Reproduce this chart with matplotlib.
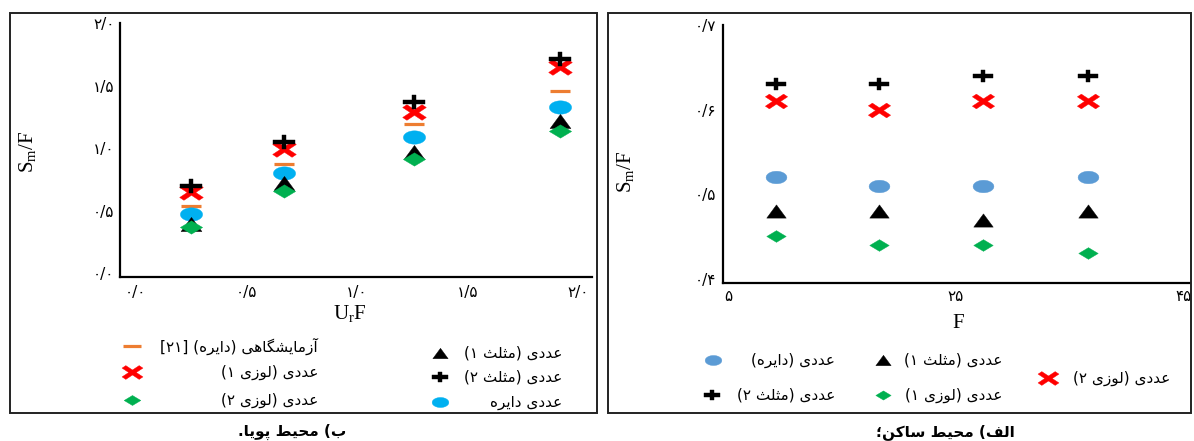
import re
import numpy as np
import matplotlib
matplotlib.use("Agg")
import matplotlib.pyplot as plt
from matplotlib.path import Path
from matplotlib.lines import Line2D
from matplotlib.patches import Rectangle
from matplotlib.ticker import FixedLocator, FixedFormatter
from matplotlib import font_manager
from matplotlib.font_manager import FontProperties
from matplotlib.ft2font import FT2Font

# ---------------- data ----------------
# (b) dynamic environment: S_m/F against U_r F
ur_f = [0.25, 0.67, 1.26, 1.92]
dyn_lab_circle = [0.54, 0.87, 1.19, 1.46]
dyn_rhombus1 = [0.65, 0.99, 1.29, 1.65]
dyn_rhombus2 = [0.37, 0.66, 0.91, 1.14]
dyn_triangle1 = [0.39, 0.72, 0.97, 1.22]
dyn_triangle2 = [0.70, 1.05, 1.37, 1.71]
dyn_circle = [0.47, 0.80, 1.09, 1.33]

dyn_ticks = [0.0, 0.5, 1.0, 1.5, 2.0]
dyn_tick_labels = ["۰/۰", "۰/۵", "۱/۰", "۱/۵", "۲/۰"]

# (a) static environment: S_m/F against F
f_values = [9.2, 18.3, 27.4, 36.6]
st_circle = [0.52, 0.51, 0.51, 0.52]
st_triangle1 = [0.48, 0.48, 0.47, 0.48]
st_triangle2 = [0.63, 0.63, 0.64, 0.64]
st_rhombus1 = [0.45, 0.44, 0.44, 0.43]
st_rhombus2 = [0.61, 0.60, 0.61, 0.61]

st_xticks = [5, 25, 45]
st_xtick_labels = ["۵", "۲۵", "۴۵"]
st_yticks = [0.4, 0.5, 0.6, 0.7]
st_ytick_labels = ["۰/۴", "۰/۵", "۰/۶", "۰/۷"]

dyn_legend_left = ["آزمایشگاهی (دایره) [۲۱]", "عددی (لوزی ۱)", "عددی (لوزی ۲)"]
dyn_legend_right = ["عددی (مثلث ۱)", "عددی (مثلث ۲)", "عددی دایره"]
st_legend = ["عددی (دایره)", "عددی (مثلث ۱)", "عددی (مثلث ۲)", "عددی (لوزی ۱)", "عددی (لوزی ۲)"]
caption_dyn = "ب) محیط پویا."
caption_st = "الف) محیط ساکن؛"

# ---------------- Persian text shaping ----------------
AR_FONT = "DejaVu Sans"
_cmap = FT2Font(font_manager.findfont(FontProperties(family=AR_FONT))).get_charmap()

# isolated, final, initial, medial
_FORMS = {
    "آ": (0xFE81, 0xFE82, None, None),
    "ا": (0xFE8D, 0xFE8E, None, None),
    "ب": (0xFE8F, 0xFE90, 0xFE91, 0xFE92),
    "پ": (0xFB56, 0xFB57, 0xFB58, 0xFB59),
    "ت": (0xFE95, 0xFE96, 0xFE97, 0xFE98),
    "ث": (0xFE99, 0xFE9A, 0xFE9B, 0xFE9C),
    "ح": (0xFEA1, 0xFEA2, 0xFEA3, 0xFEA4),
    "د": (0xFEA9, 0xFEAA, None, None),
    "ر": (0xFEAD, 0xFEAE, None, None),
    "ز": (0xFEAF, 0xFEB0, None, None),
    "س": (0xFEB1, 0xFEB2, 0xFEB3, 0xFEB4),
    "ش": (0xFEB5, 0xFEB6, 0xFEB7, 0xFEB8),
    "ط": (0xFEC1, 0xFEC2, 0xFEC3, 0xFEC4),
    "ع": (0xFEC9, 0xFECA, 0xFECB, 0xFECC),
    "ف": (0xFED1, 0xFED2, 0xFED3, 0xFED4),
    "ک": (0xFB8E, 0xFB8F, 0xFB90, 0xFB91),
    "گ": (0xFB92, 0xFB93, 0xFB94, 0xFB95),
    "ل": (0xFEDD, 0xFEDE, 0xFEDF, 0xFEE0),
    "م": (0xFEE1, 0xFEE2, 0xFEE3, 0xFEE4),
    "ن": (0xFEE5, 0xFEE6, 0xFEE7, 0xFEE8),
    "ه": (0xFEE9, 0xFEEA, 0xFEEB, 0xFEEC),
    "و": (0xFEED, 0xFEEE, None, None),
    "ی": (0xFBFC, 0xFBFD, 0xFBFE, 0xFBFF),
}
_ALT = {  # substitutes when a Persian form is missing from the font
    0xFBFC: 0xFEEF, 0xFBFD: 0xFEF0, 0xFBFE: 0xFEF3, 0xFBFF: 0xFEF4,
    0xFB8E: 0xFED9, 0xFB8F: 0xFEDA, 0xFB90: 0xFEDB, 0xFB91: 0xFEDC,
}
_MIRROR = {"(": ")", ")": "(", "[": "]", "]": "["}


def _glyph(cp, base):
    if cp in _cmap:
        return chr(cp)
    if cp in _ALT and _ALT[cp] in _cmap:
        return chr(_ALT[cp])
    return base


def shape(s):
    out = []
    for i, c in enumerate(s):
        if c not in _FORMS:
            out.append(c)
            continue
        prev = s[i - 1] if i > 0 else ""
        nxt = s[i + 1] if i + 1 < len(s) else ""
        forms = _FORMS[c]
        join_prev = prev in _FORMS and _FORMS[prev][2] is not None
        join_next = forms[2] is not None and nxt in _FORMS
        if join_prev and join_next:
            cp = forms[3]
        elif join_prev:
            cp = forms[1]
        elif join_next:
            cp = forms[2]
        else:
            cp = forms[0]
        out.append(_glyph(cp, c))
    return "".join(out)


def rtl(s):
    vis = shape(s)[::-1]
    vis = re.sub(r"[0-9\u06F0-\u06F9]+", lambda m: m.group(0)[::-1], vis)
    return "".join(_MIRROR.get(c, c) for c in vis)


# ---------------- marker shapes ----------------
def closed(verts):
    verts = list(verts) + [verts[0]]
    return Path(verts, closed=True)


_t = np.linspace(0, 2 * np.pi, 60)
ELLIPSE = closed(list(zip(np.cos(_t), 0.6 * np.sin(_t))))
DIAMOND = closed([(-1, 0), (0, 0.6), (1, 0), (0, -0.6)])
TRIANGLE = closed([(-1, -0.68), (1, -0.68), (0, 0.68)])
_a, _h = 0.2, 0.62
PLUS = closed([(-_a, _h), (_a, _h), (_a, _a), (1, _a), (1, -_a), (_a, -_a),
               (_a, -_h), (-_a, -_h), (-_a, -_a), (-1, -_a), (-1, _a), (-_a, _a)])
_d, _sy = 0.36, 0.66
CROSS = closed([(x, y * _sy) for x, y in
                [(0, _d), (1 - _d, 1), (1, 1 - _d), (_d, 0), (1, -1 + _d), (1 - _d, -1),
                 (0, -_d), (-1 + _d, -1), (-1, -1 + _d), (-_d, 0), (-1, 1 - _d), (-1 + _d, 1)]])

RED = "#FF0000"
GREEN = "#00B050"
CYAN = "#00B0F0"
STEEL = "#5B9BD5"
ORANGE = "#ED7D31"


def mk(path, color, size):
    return dict(marker=path, markersize=size, markerfacecolor=color,
                markeredgecolor=color, markeredgewidth=0.3, linestyle="none")


def dash(size):
    return dict(marker="_", markersize=size, markeredgecolor=ORANGE,
                markeredgewidth=2.3, linestyle="none")


# ---------------- figure ----------------
W, H = 1194, 441
fig = plt.figure(figsize=(W / 100, H / 100), dpi=100)
plt.rcParams["mathtext.fontset"] = "custom"
plt.rcParams["mathtext.rm"] = "Liberation Serif"
plt.rcParams["mathtext.it"] = "Liberation Serif:italic"


def fx(x):
    return x / W


def fy(y):
    return 1 - y / H


def panel_box(x0, y0, x1, y1):
    fig.add_artist(Rectangle((fx(x0), fy(y1)), fx(x1 - x0), (y1 - y0) / H,
                             transform=fig.transFigure, fill=False,
                             edgecolor="#222222", linewidth=1.4))


def style_axes(ax):
    for side in ("top", "right"):
        ax.spines[side].set_visible(False)
    for side in ("left", "bottom"):
        ax.spines[side].set_linewidth(1.6)
        ax.spines[side].set_color("black")
    ax.tick_params(length=0, labelsize=11)
    for lab in ax.get_xticklabels() + ax.get_yticklabels():
        lab.set_fontfamily(AR_FONT)
    ax.patch.set_alpha(0)


def key(x, y, style):
    fig.add_artist(Line2D([fx(x)], [fy(y)], transform=fig.transFigure, **style))


def label(x, y, s, ha="right", size=11, weight="normal"):
    fig.text(fx(x), fy(y), rtl(s), ha=ha, va="center", fontsize=size,
             fontfamily=AR_FONT, fontweight=weight)


panel_box(10, 13, 597, 413)
panel_box(608, 13, 1191, 413)

# ---- left panel: dynamic environment ----
ax1 = fig.add_axes([fx(120), fy(277), fx(592 - 120), (277 - 23) / H])
ax1.plot(ur_f, dyn_lab_circle, zorder=3, **dash(15))
ax1.plot(ur_f, dyn_circle, zorder=3, **mk(ELLIPSE, CYAN, 16))
ax1.plot(ur_f, dyn_triangle1, zorder=3, **mk(TRIANGLE, "black", 15))
ax1.plot(ur_f, dyn_rhombus2, zorder=4, **mk(DIAMOND, GREEN, 16))
ax1.plot(ur_f, dyn_rhombus1, zorder=3, **mk(CROSS, RED, 17))
ax1.plot(ur_f, dyn_triangle2, zorder=4, **mk(PLUS, "black", 16))
ax1.set_xlim(-0.072, 2.064)
ax1.set_ylim(-0.03, 2.0)
ax1.xaxis.set_major_locator(FixedLocator(dyn_ticks))
ax1.xaxis.set_major_formatter(FixedFormatter(dyn_tick_labels))
ax1.yaxis.set_major_locator(FixedLocator(dyn_ticks))
ax1.yaxis.set_major_formatter(FixedFormatter(dyn_tick_labels))
ax1.tick_params(axis="y", pad=4)
ax1.tick_params(axis="x", pad=6)
style_axes(ax1)
fig.text(fx(28), fy(152), r"$\mathrm{S_m/F}$", rotation=90, ha="center", va="center", fontsize=15)
fig.text(fx(350), fy(314), r"$\mathrm{U_rF}$", ha="center", va="center", fontsize=15)

left_keys = [dash(13), mk(CROSS, RED, 15), mk(DIAMOND, GREEN, 12)]
for (yy, s, st) in zip([346, 372, 400], dyn_legend_left, left_keys):
    key(132, yy, st)
    label(318, yy, s)
right_keys = [mk(TRIANGLE, "black", 11), mk(PLUS, "black", 11), mk(ELLIPSE, CYAN, 12)]
for (yy, s, st) in zip([353, 377, 402], dyn_legend_right, right_keys):
    key(440, yy, st)
    label(562, yy, s)
label(292, 432, caption_dyn, ha="center", size=11, weight="bold")

# ---- right panel: static environment ----
ax2 = fig.add_axes([fx(723), fy(283), fx(1190 - 723), (283 - 25) / H])
ax2.plot(f_values, st_triangle2, zorder=3, **mk(PLUS, "black", 15))
ax2.plot(f_values, st_rhombus2, zorder=3, **mk(CROSS, RED, 16))
ax2.plot(f_values, st_circle, zorder=3, **mk(ELLIPSE, STEEL, 15))
ax2.plot(f_values, st_triangle1, zorder=3, **mk(TRIANGLE, "black", 14))
ax2.plot(f_values, st_rhombus1, zorder=3, **mk(DIAMOND, GREEN, 14))
ax2.set_xlim(4.56, 45.6)
ax2.set_ylim(0.395, 0.70)
ax2.xaxis.set_major_locator(FixedLocator(st_xticks))
ax2.xaxis.set_major_formatter(FixedFormatter(st_xtick_labels))
ax2.yaxis.set_major_locator(FixedLocator(st_yticks))
ax2.yaxis.set_major_formatter(FixedFormatter(st_ytick_labels))
ax2.tick_params(axis="y", pad=5)
ax2.tick_params(axis="x", pad=4)
style_axes(ax2)
fig.text(fx(625), fy(172), r"$\mathrm{S_m/F}$", rotation=90, ha="center", va="center", fontsize=15)
fig.text(fx(958), fy(322), r"$\mathrm{F}$", ha="center", va="center", fontsize=15)

st_keys = [
    (713, 360, 835, mk(ELLIPSE, STEEL, 12)),
    (883, 360, 1002, mk(TRIANGLE, "black", 11)),
    (712, 395, 835, mk(PLUS, "black", 12)),
    (883, 395, 1002, mk(DIAMOND, GREEN, 11)),
    (1048, 378, 1170, mk(CROSS, RED, 15)),
]
for s, (kx, ky, tx, st) in zip(st_legend, st_keys):
    key(kx, ky, st)
    label(tx, ky, s)
label(945, 432, caption_st, ha="center", size=11, weight="bold")

fig.savefig("out.png", dpi=100, facecolor="white")
